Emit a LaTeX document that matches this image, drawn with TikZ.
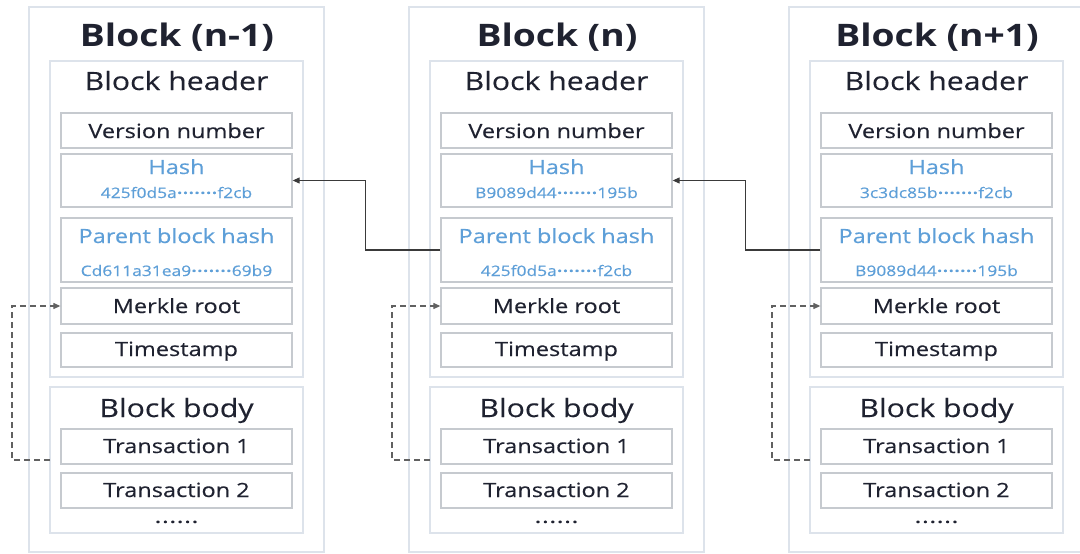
\documentclass[tikz,border=0pt]{standalone}
\usepackage{fontspec}
\setmainfont{Open Sans}[FakeStretch=1.2]
\newfontfamily\medfont{Open Sans}[FakeStretch=1.2, FakeBold=0.35]
\usetikzlibrary{fit,arrows.meta,calc}
\definecolor{ink}{HTML}{1F2230}
\definecolor{hashblue}{HTML}{5E9FD8}
\definecolor{frameline}{HTML}{DDE3EB}
\definecolor{cellline}{HTML}{C6CACF}
\definecolor{linkgray}{HTML}{3A3A3A}
% a run of raised dots inside the hash values
\newcommand\hashdots{\foreach \k in {1,...,7}{\makebox[5.8pt]{\bfseries ·}}}
% the trailing dots under the transactions
\newcommand\moredots{\foreach \k in {1,...,6}{\makebox[7.4pt]{\bfseries .}}}
\tikzset{
  outerbox/.style={draw=frameline, line width=1.6pt, inner sep=0pt},
  partbox/.style={draw=frameline, line width=1.4pt, inner sep=0pt},
  cellbox/.style={draw=cellline, line width=1.3pt, inner sep=0pt},
  titletext/.style={anchor=base, inner sep=0pt, text=ink, font=\fontsize{31}{36}\selectfont\bfseries},
  parttext/.style={anchor=base, inner sep=0pt, text=ink, font=\fontsize{25.2}{30}\medfont},
  celltext/.style={anchor=base, inner sep=0pt, text=ink, font=\fontsize{19.6}{23}\medfont},
  hashtext/.style={anchor=base, inner sep=0pt, text=hashblue, font=\fontsize{19.6}{23}\medfont},
  valuetext/.style={anchor=base, inner sep=0pt, text=hashblue, font=\fontsize{14.5}{17}\medfont},
  link/.style={draw=linkgray, line width=1.1pt, -{Triangle[length=7pt,width=6pt]}},
  dashlink/.style={draw=linkgray!80, line width=1.2pt, dash pattern=on 6pt off 4pt, -{Triangle[length=7pt,width=6pt]}}
}
% one block of the chain: #1 x offset, #2 id, #3 title, #4 hash, #5 parent hash
\newcommand\chainblock[5]{%
  \def\o{#1}%
  \node[outerbox, fit={(\o+29,7) (\o+324,552)}] (outer#2) {};
  \node[partbox, fit={(\o+50,61) (\o+303,377)}] (header#2) {};
  \node[partbox, fit={(\o+50,387) (\o+303,533)}] (body#2) {};
  \node[cellbox, fit={(\o+61,113) (\o+292,148)}] (ver#2) {};
  \node[cellbox, fit={(\o+61,154) (\o+292,207)}] (hash#2) {};
  \node[cellbox, fit={(\o+61,218) (\o+292,282)}] (parent#2) {};
  \node[cellbox, fit={(\o+61,288) (\o+292,324)}] (merkle#2) {};
  \node[cellbox, fit={(\o+61,333) (\o+292,367)}] (time#2) {};
  \node[cellbox, fit={(\o+61,429) (\o+292,464)}] (txa#2) {};
  \node[cellbox, fit={(\o+61,473) (\o+292,508)}] (txb#2) {};
  \node[titletext] (title#2) at (\o+177,46) {#3};
  \node[parttext] (headlbl#2) at (\o+176.5,90) {Block header};
  \node[celltext] (verlbl#2) at (\o+176.5,138) {Version number};
  \node[hashtext] (hashlbl#2) at (\o+176.5,174) {Hash};
  \node[valuetext] (hashval#2) at (\o+176.5,198) {#4};
  \node[hashtext] (parentlbl#2) at (\o+176.5,243) {Parent block hash};
  \node[valuetext] (parentval#2) at (\o+176.5,276) {#5};
  \node[celltext] (merklelbl#2) at (\o+176.5,313) {Merkle root};
  \node[celltext] (timelbl#2) at (\o+176.5,356) {Timestamp};
  \node[parttext] (bodylbl#2) at (\o+176.5,417) {Block body};
  \node[celltext] (txalbl#2) at (\o+176.5,453) {Transaction 1};
  \node[celltext] (txblbl#2) at (\o+176.5,497) {Transaction 2};
  \node[celltext, font=\fontsize{15}{17}\medfont] (more#2) at (\o+176.5,523) {\moredots};
  % transactions feed the Merkle root
  \coordinate (tap#2) at (\o+50,460);
  \draw[dashlink] (tap#2) -- (\o+12,460) |- (merkle#2.west);
}
\begin{document}
\begin{tikzpicture}[x=1pt, y=-1pt]
  \useasboundingbox[fill=white] (0,0) rectangle (1080,554);
  \chainblock{0}{1}{Block (n-1)}{425f0d5a\hashdots f2cb}{Cd611a31ea9\hashdots 69b9}
  \chainblock{380}{2}{Block (n)}{B9089d44\hashdots 195b}{425f0d5a\hashdots f2cb}
  \chainblock{760}{3}{Block (n+1)}{3c3dc85b\hashdots f2cb}{B9089d44\hashdots 195b}
  % each parent hash points back to the previous block's hash
  \draw[link] (parent2.west) -- ++(-75,0) |- (hash1.east);
  \draw[link] (parent3.west) -- ++(-75,0) |- (hash2.east);
\end{tikzpicture}
\end{document}
